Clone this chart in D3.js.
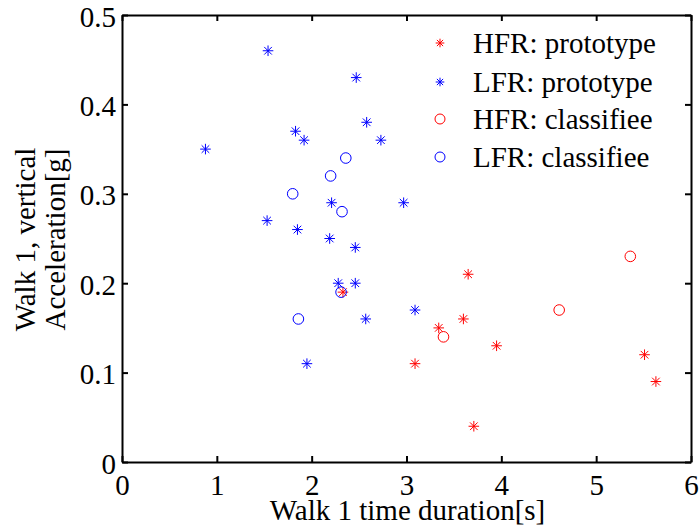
<!DOCTYPE html>
<html>
<head>
<meta charset="utf-8">
<script src="https://cdn.jsdelivr.net/npm/d3@7/dist/d3.min.js"></script>
<style>
  body { margin: 0; background: #fff; }
</style>
</head>
<body>
<svg id="chart" width="700" height="531"></svg>
<script>
// Data
const hfrPrototypeX = [2.33, 3.65, 3.60, 3.34, 3.95, 5.51, 3.09, 5.63, 3.71];
const hfrPrototypeY = [0.19, 0.21, 0.16, 0.15, 0.13, 0.12, 0.11, 0.09, 0.04];
const lfrPrototypeX = [1.54, 2.47, 2.58, 1.83, 1.92, 2.73, 0.88, 2.21, 2.97, 1.53, 1.85, 2.19, 2.46, 2.28, 2.46, 2.57, 1.95, 3.09];
const lfrPrototypeY = [0.46, 0.43, 0.38, 0.37, 0.36, 0.36, 0.35, 0.29, 0.29, 0.27, 0.26, 0.25, 0.24, 0.20, 0.20, 0.16, 0.11, 0.17];
const hfrClassifieeX = [5.36, 4.61, 3.39];
const hfrClassifieeY = [0.23, 0.17, 0.14];
const lfrClassifieeX = [2.36, 2.20, 1.80, 2.32, 2.31, 1.86];
const lfrClassifieeY = [0.34, 0.32, 0.30, 0.28, 0.19, 0.16];
const xTicks = [0, 1, 2, 3, 4, 5, 6];
const yTicks = [0, 0.1, 0.2, 0.3, 0.4, 0.5];
const legendLabels = ["HFR: prototype", "LFR: prototype", "HFR: classifiee", "LFR: classifiee"];

const series = [
  { xs: hfrPrototypeX, ys: hfrPrototypeY, color: "#ff0000", marker: "star" },
  { xs: lfrPrototypeX, ys: lfrPrototypeY, color: "#0000ff", marker: "star" },
  { xs: hfrClassifieeX, ys: hfrClassifieeY, color: "#ff0000", marker: "circle" },
  { xs: lfrClassifieeX, ys: lfrClassifieeY, color: "#0000ff", marker: "circle" }
];

const FONT = "'Liberation Serif', 'Times New Roman', Tinos";
const svg = d3.select("#chart");
const L = 122, R = 691, T = 15, B = 462;
const x = d3.scaleLinear().domain([0, 6]).range([L, R]);
const y = d3.scaleLinear().domain([0, 0.5]).range([B, T]);
const fs = 29;

function drawMarker(g, type, color, r) {
  if (type === "star") {
    const a = r, d = r * 0.72;
    g.append("path")
      .attr("d", `M${-a},0L${a},0M0,${-a}L0,${a}M${-d},${-d}L${d},${d}M${-d},${d}L${d},${-d}`)
      .attr("stroke", color).attr("stroke-width", 1).attr("fill", "none");
  } else {
    g.append("circle").attr("r", r).attr("fill", "none")
      .attr("stroke", color).attr("stroke-width", 1);
  }
}

series.forEach(s => {
  s.xs.forEach((xv, i) => {
    const g = svg.append("g").attr("transform", `translate(${x(xv)},${y(s.ys[i])})`);
    drawMarker(g, s.marker, s.color, 5.3);
  });
});

const tickLen = 6;
const axB = svg.append("g").attr("transform", `translate(0,${B})`)
  .call(d3.axisBottom(x).tickValues(xTicks).tickFormat(d3.format("d")).tickSizeInner(-tickLen).tickSizeOuter(0).tickPadding(12));
const axT = svg.append("g").attr("transform", `translate(0,${T})`)
  .call(d3.axisTop(x).tickValues(xTicks).tickFormat("").tickSizeInner(-tickLen).tickSizeOuter(0));
const axL = svg.append("g").attr("transform", `translate(${L},0)`)
  .call(d3.axisLeft(y).tickValues(yTicks).tickFormat(d => d === 0 ? "0" : d3.format(".1f")(d)).tickSizeInner(-tickLen).tickSizeOuter(0).tickPadding(6));
const axR = svg.append("g").attr("transform", `translate(${R},0)`)
  .call(d3.axisRight(y).tickValues(yTicks).tickFormat("").tickSizeInner(-tickLen).tickSizeOuter(0));

[axB, axT, axL, axR].forEach(a => {
  a.select(".domain").attr("stroke", "#000").attr("stroke-width", 2);
  a.selectAll(".tick line").attr("stroke", "#000").attr("stroke-width", 2);
  a.selectAll(".tick text").attr("fill", "#000")
    .style("font-family", FONT).style("font-size", fs + "px");
});
axB.selectAll(".tick text").attr("dy", "0.71em");
axL.selectAll(".tick text").attr("dy", "0.38em");

svg.append("text").attr("x", (L + R) / 2 + 1).attr("y", 520)
  .attr("text-anchor", "middle").style("font-family", FONT).style("font-size", fs + "px")
  .text("Walk 1 time duration[s]");
const yl = svg.append("text").attr("transform", `translate(0,${(T + B) / 2 + 1}) rotate(-90)`)
  .attr("text-anchor", "middle").style("font-family", FONT).style("font-size", fs + "px");
yl.append("tspan").attr("x", 0).attr("y", 35).text("Walk 1, vertical");
yl.append("tspan").attr("x", 0).attr("y", 65).text("Acceleration[g]");

const legBase = [53, 92, 129, 167];
legendLabels.forEach((lab, i) => {
  const g = svg.append("g").attr("transform", `translate(440,${legBase[i] - 10})`);
  drawMarker(g, series[i].marker, series[i].color, series[i].marker === "star" ? 4.3 : 5);
  svg.append("text").attr("x", 473).attr("y", legBase[i])
    .style("font-family", FONT).style("font-size", fs + "px").text(lab);
});
</script>
</body>
</html>
